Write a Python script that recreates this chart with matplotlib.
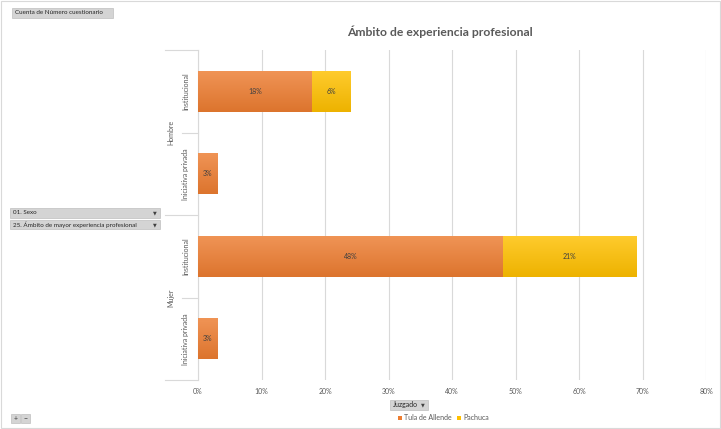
import matplotlib
matplotlib.use("Agg")
import matplotlib.pyplot as plt
from matplotlib.patches import Rectangle
from matplotlib.colors import to_rgb
import numpy as np

plt.rcParams['font.family'] = ['Lato', 'DejaVu Sans']

groups = ["Hombre", "Mujer"]
subcats = ["Institucional", "Iniciativa privada"]
series = ["Tula de Allende", "Pachuca"]
tula = [18, 3, 48, 3]
pachuca = [6, 0, 21, 0]
xticks = [0, 10, 20, 30, 40, 50, 60, 70, 80]
colors = ["#ED7D31", "#FFC000"]

W, H = 721, 429
fig = plt.figure(figsize=(W / 100, H / 100), dpi=100)

def fx(px):
    return px / W

def fy(py):
    return 1 - py / H

fig.patches.append(Rectangle((fx(1), fy(428)), fx(719), 427 / H, transform=fig.transFigure,
                             fill=False, edgecolor="#D9D9D9", lw=0.8))

ax = fig.add_axes([fx(198), fy(380), fx(706 - 198), (380 - 50) / H])
n = len(tula)
ypos = np.arange(n)[::-1]
b1 = ax.barh(ypos, tula, height=0.5, color=colors[0], zorder=3)
b2 = ax.barh(ypos, pachuca, left=tula, height=0.5, color=colors[1], zorder=3)

ax.set_xlim(0, 80)
ax.set_ylim(-0.5, n - 0.5)

def gradient(bars, base):
    r, g, b = to_rgb(base)
    top = np.array([r + (1 - r) * 0.18, g + (1 - g) * 0.18, b + (1 - b) * 0.18])
    bot = np.array([r * 0.93, g * 0.93, b * 0.93])
    t = np.linspace(0, 1, 64)[:, None]
    img = (top * (1 - t) + bot * t)[:, None, :]
    for p in bars:
        if p.get_width() <= 0:
            continue
        x0, y0 = p.get_x(), p.get_y()
        w, h = p.get_width(), p.get_height()
        im = ax.imshow(img, extent=(x0, x0 + w, y0, y0 + h), aspect="auto",
                       origin="upper", zorder=3.5, interpolation="bilinear")
        im.set_clip_path(p)

gradient(b1, colors[0])
gradient(b2, colors[1])
ax.set_xlim(0, 80)
ax.set_ylim(-0.5, n - 0.5)

for y, t, p in zip(ypos, tula, pachuca):
    if t > 0:
        ax.text(t / 2, y, f"{t}%", ha="center", va="center", fontsize=5, color="#404040", zorder=5)
    if p > 0:
        ax.text(t + p / 2, y, f"{p}%", ha="center", va="center", fontsize=5, color="#404040", zorder=5)

ax.set_xticks(xticks)
ax.set_xticklabels([f"{v}%" for v in xticks], fontsize=5, color="#595959")
ax.tick_params(axis="x", length=0, pad=6)
ax.set_yticks([])
ax.grid(axis="x", color="#D9D9D9", lw=0.8, zorder=0)
for s in ["top", "right", "bottom"]:
    ax.spines[s].set_visible(False)
ax.spines["left"].set_color("#D9D9D9")
ax.spines["left"].set_linewidth(0.8)

trans = ax.get_yaxis_transform()
labels_sub = subcats * len(groups)
for y, lab in zip(ypos, labels_sub):
    ax.text(-0.024, y, lab, transform=trans, rotation=90, ha="center", va="center",
            fontsize=5, color="#595959")
for gi, g in enumerate(groups):
    yc = ypos[gi * 2] - 0.5
    ax.text(-0.053, yc, g, transform=trans, rotation=90, ha="center", va="center",
            fontsize=5, color="#595959")
# separators
for yb in np.arange(-0.5, n, 1.0):
    idx = int(round(n - 0.5 - yb))
    long = idx % 2 == 0
    x0 = -0.065 if long else -0.031
    ax.plot([x0, 0], [yb, yb], transform=trans, color="#D9D9D9", lw=0.8, clip_on=False)

fig.text(fx(440), fy(32), "Ámbito de experiencia profesional", ha="center", va="center",
         fontsize=8.7, fontweight="bold", color="#595959")

def button(x0, y0, x1, y1, text, arrow=False, fs=4.5):
    fig.patches.append(Rectangle((fx(x0), fy(y1)), fx(x1 - x0), (y1 - y0) / H,
                                 transform=fig.transFigure, facecolor="#D4D4D4",
                                 edgecolor="#BFBFBF", lw=0.5))
    fig.text(fx(x0 + 3), fy((y0 + y1) / 2), text, ha="left", va="center",
             fontsize=fs, color="#262626")
    if arrow:
        fig.text(fx(x1 - 5), fy((y0 + y1) / 2), "▼", ha="center", va="center",
                 fontsize=3.5, color="#404040", family="DejaVu Sans")

button(12, 8, 113, 18, "Cuenta de Número cuestionario")
button(10, 208, 160, 218, "01. Sexo", arrow=True)
button(10, 220, 160, 229, "25. Ámbito de mayor experiencia profesional", arrow=True)
button(390, 400, 428, 410, "Juzgado", arrow=True, fs=5)
button(11, 414, 20, 423, "")
button(21, 414, 30, 423, "")
fig.text(fx(15.5), fy(418.5), "+", ha="center", va="center", fontsize=5, color="#404040")
fig.text(fx(25.5), fy(418.5), "−", ha="center", va="center", fontsize=5, color="#404040")

lx = [398, 457]
for x, c, s in zip(lx, colors, series):
    fig.patches.append(Rectangle((fx(x), fy(419.5)), fx(4), 4 / H, transform=fig.transFigure,
                                 facecolor=c, edgecolor="none"))
    fig.text(fx(x + 6), fy(417.5), s, ha="left", va="center", fontsize=5, color="#595959")

fig.savefig("out.png", dpi=100)
